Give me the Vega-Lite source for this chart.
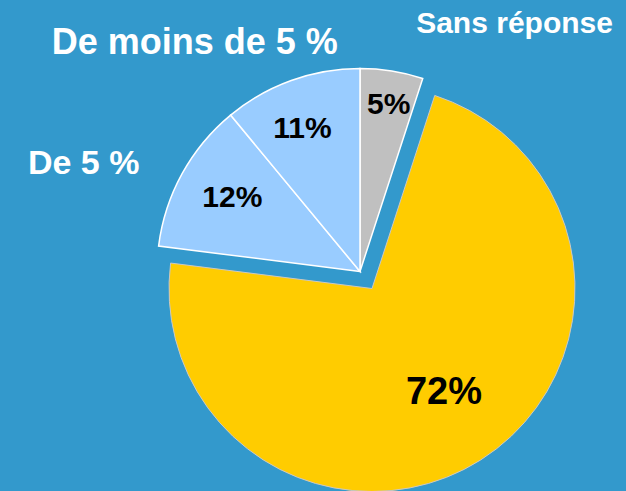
{
  "$schema": "https://vega.github.io/schema/vega-lite/v6.json",
  "autosize": {"type": "none"},
  "width": 532,
  "height": 439,
  "padding": {"left": 94, "top": 52, "right": 0, "bottom": 0},
  "background": "#3399CC",
  "config": {
    "view": {"stroke": null},
    "text": {"font": "Liberation Sans", "fontWeight": "bold"}
  },
  "data": {
    "values": [
      {"cat": "Sans réponse", "value": 5, "ord": 1, "label": "5%"},
      {"cat": "Plus de 5 %", "value": 72, "ord": 2, "label": "72%"},
      {"cat": "De 5 %", "value": 12, "ord": 3, "label": "12%"},
      {"cat": "De moins de 5 %", "value": 11, "ord": 4, "label": "11%"}
    ]
  },
  "encoding": {
    "theta": {"field": "value", "type": "quantitative", "stack": true},
    "order": {"field": "ord", "type": "quantitative"},
    "detail": {"field": "cat", "type": "nominal"}
  },
  "layer": [
    {
      "mark": {"type": "arc", "radius": 203, "stroke": "white", "strokeWidth": 1.5},
      "encoding": {
        "color": {
          "field": "cat", "type": "nominal", "legend": null,
          "scale": {"domain": ["Sans réponse", "Plus de 5 %", "De 5 %", "De moins de 5 %"], "range": ["#C0C0C0", "#FFCC00", "#99CCFF", "#99CCFF"]}
        },
        "opacity": {"condition": {"test": "datum.cat === 'Plus de 5 %'", "value": 0}, "value": 1}
      }
    },
    {
      "mark": {"type": "arc", "radius": 203, "xOffset": 12, "yOffset": 17, "stroke": "#c8c8c8", "strokeWidth": 1},
      "encoding": {
        "color": {
          "field": "cat", "type": "nominal", "legend": null,
          "scale": {"domain": ["Sans réponse", "Plus de 5 %", "De 5 %", "De moins de 5 %"], "range": ["#C0C0C0", "#FFCC00", "#99CCFF", "#99CCFF"]}
        },
        "opacity": {"condition": {"test": "datum.cat === 'Plus de 5 %'", "value": 1}, "value": 0}
      }
    },
    {
      "mark": {"type": "text", "radius": 171, "fontSize": 30, "color": "black", "dx": 2, "dy": 2},
      "encoding": {
        "text": {"field": "label", "type": "nominal"},
        "opacity": {"condition": {"test": "datum.cat === 'Sans réponse'", "value": 1}, "value": 0}
      }
    },
    {
      "mark": {"type": "text", "radius": 155, "fontSize": 30, "color": "black", "dx": -5, "dy": 3},
      "encoding": {
        "text": {"field": "label", "type": "nominal"},
        "opacity": {"condition": {"test": "datum.cat === 'De moins de 5 %'", "value": 1}, "value": 0}
      }
    },
    {
      "mark": {"type": "text", "radius": 148, "fontSize": 30, "color": "black", "dx": 2, "dy": -2},
      "encoding": {
        "text": {"field": "label", "type": "nominal"},
        "opacity": {"condition": {"test": "datum.cat === 'De 5 %'", "value": 1}, "value": 0}
      }
    },
    {
      "mark": {"type": "text", "radius": 125, "fontSize": 38, "color": "black", "xOffset": 12, "yOffset": 17, "dx": 5, "dy": -1},
      "encoding": {
        "text": {"field": "label", "type": "nominal"},
        "opacity": {"condition": {"test": "datum.cat === 'Plus de 5 %'", "value": 1}, "value": 0}
      }
    },
    {
      "mark": {"type": "text", "radius": 240, "fontSize": 30, "color": "white", "dx": 117, "dy": -10},
      "encoding": {
        "text": {"field": "cat", "type": "nominal"},
        "opacity": {"condition": {"test": "datum.cat === 'Sans réponse'", "value": 1}, "value": 0}
      }
    },
    {
      "mark": {"type": "text", "radius": 240, "fontSize": 36, "color": "white", "dx": -84, "dy": -3},
      "encoding": {
        "text": {"field": "cat", "type": "nominal"},
        "opacity": {"condition": {"test": "datum.cat === 'De moins de 5 %'", "value": 1}, "value": 0}
      }
    },
    {
      "mark": {"type": "text", "radius": 240, "fontSize": 34, "color": "white", "dx": -66, "dy": 8},
      "encoding": {
        "text": {"field": "cat", "type": "nominal"},
        "opacity": {"condition": {"test": "datum.cat === 'De 5 %'", "value": 1}, "value": 0}
      }
    }
  ]
}
